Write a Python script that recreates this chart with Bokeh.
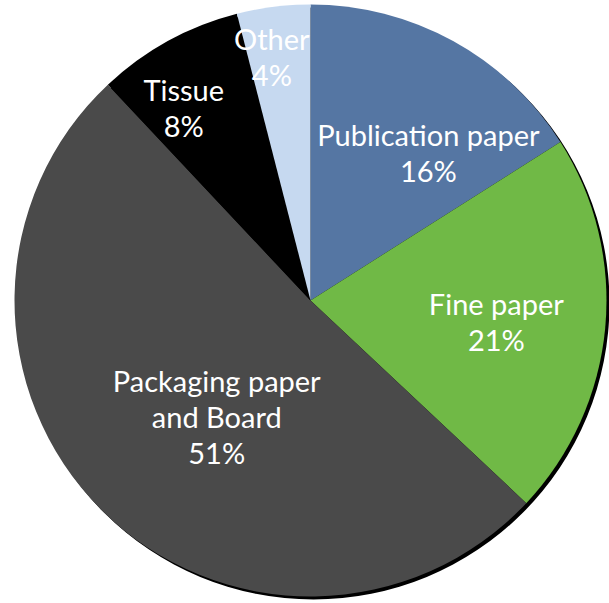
import math
from bokeh.plotting import figure
from bokeh.models import Range1d, ColumnDataSource
from bokeh.core.properties import value
from bokeh.embed import file_html
from bokeh.resources import INLINE

# ---- data ----
categories = ["Publication paper", "Fine paper", "Packaging paper\nand Board", "Tissue", "Other"]
shares = [16, 21, 51, 8, 4]
colors = ["#5576A3", "#70B946", "#4A4A4A", "#000000", "#C6D9F0"]

# ---- layout ----
W, H = 609, 603
CX, CY = 310, H - 300
R = 296
label_radius = [189, 187, 149, 231, 247]
label_shift_deg = [9.8, 1.0, -6.0, -4.5, -1.8]

p = figure(width=W, height=H, output_backend="svg", toolbar_location=None,
           x_range=Range1d(0, W), y_range=Range1d(0, H), min_border=0)
p.axis.visible = False
p.grid.visible = False
p.outline_line_color = None
p.background_fill_color = "white"
p.border_fill_color = "white"

# shadow
p.circle(x=[CX + 3], y=[CY - 3], radius=R, fill_color="black", line_color=None)

total = sum(shares)
starts, ends, lx, ly, labels = [], [], [], [], []
cum = 0.0
for i, (cat, s) in enumerate(zip(categories, shares)):
    a0 = cum / total
    cum += s
    a1 = cum / total
    starts.append(math.pi / 2 - 2 * math.pi * a0)
    ends.append(math.pi / 2 - 2 * math.pi * a1)
    mid = (a0 + a1) / 2 * 360 + label_shift_deg[i]
    th = math.radians(90 - mid)
    lx.append(CX + label_radius[i] * math.cos(th))
    ly.append(CY + label_radius[i] * math.sin(th))
    labels.append(f"{cat}\n{s}%")

src = ColumnDataSource(dict(start=starts, end=ends, color=colors))
p.wedge(x=CX, y=CY, radius=R, start_angle="start", end_angle="end",
        direction="clock", fill_color="color", line_color=None, source=src)

lsrc = ColumnDataSource(dict(x=lx, y=ly, text=labels))
p.text(x="x", y="y", text="text", source=lsrc, text_color="white",
       text_font=value("Lato"), text_font_size="29px", text_align="center",
       text_baseline="middle", text_line_height=1.03)

open("out.html", "w").write(file_html(p, INLINE))
